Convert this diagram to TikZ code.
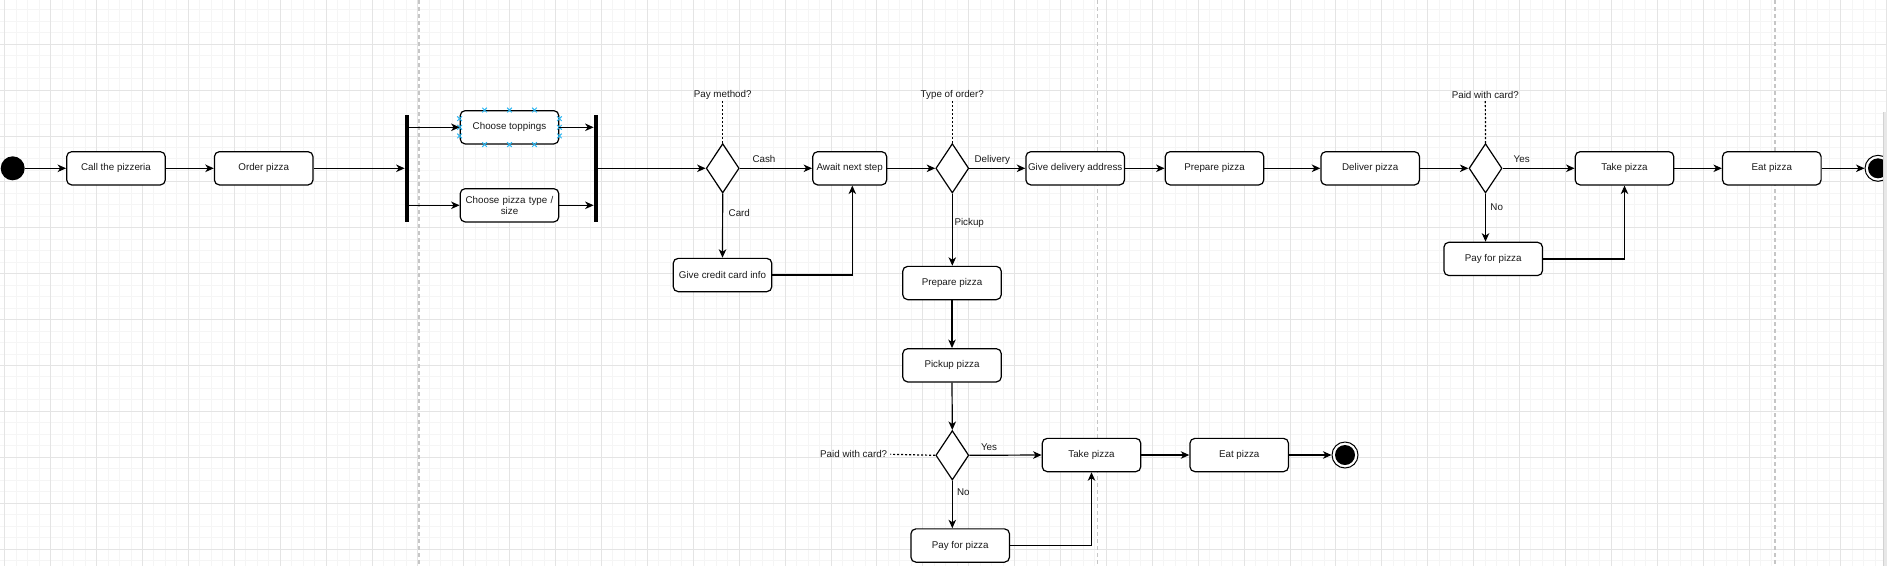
\documentclass[tikz,border=0pt]{standalone}
\usepackage{fontspec}
\setmainfont{Liberation Sans}
\usetikzlibrary{shapes.geometric,arrows.meta,calc}
\definecolor{gmaj}{HTML}{E4E4E4}
\definecolor{gmin}{HTML}{F5F5F5}
\definecolor{sepc}{HTML}{C6C6C6}
\definecolor{hand}{HTML}{29B6F2}
\definecolor{txt}{HTML}{1A1A1A}
\begin{document}
\begin{tikzpicture}[x=1pt,y=-1pt,
  every node/.style={font=\fontsize{9.8}{11.4}\selectfont, text=txt},
  act/.style={draw=black, fill=white, rectangle, rounded corners=5pt, line width=1.2pt,
    minimum width=98.6pt, minimum height=33.3pt, inner sep=1pt, align=center},
  dec/.style={draw=black, fill=white, diamond, line width=1.2pt, inner sep=0pt,
    minimum width=33pt, minimum height=49.4pt},
  bar/.style={fill=black, rectangle, inner sep=0pt, minimum width=3.7pt, minimum height=106.7pt},
  startnode/.style={fill=black, circle, inner sep=0pt, minimum size=24pt},
  endnode/.style={draw=black, fill=white, circle, line width=1pt, inner sep=0pt, minimum size=26pt,
    path picture={\fill[black] (path picture bounding box.center) circle (10pt);}},
  lbl/.style={inner sep=1pt},
  arr/.style={draw=black, line width=1.2pt, -{Stealth[length=8.5pt,width=7.5pt,inset=2.5pt]}},
  dotline/.style={draw=black, line width=1.2pt, dash pattern=on 2pt off 2pt},
  sepline/.style={draw=sepc, line width=1.1pt, dash pattern=on 4pt off 3pt}
]
\useasboundingbox (0,0) rectangle (1887,566);
\fill[white] (0,0) rectangle (1887,566);
% grid
\foreach \i in {0,...,164} \draw[gmin,line width=0.8pt] ({4.7+11.475*\i},0) -- ++(0,566);
\foreach \j in {0,...,49} \draw[gmin,line width=0.8pt] (0,{-1.8+11.475*\j}) -- ++(1887,0);
\foreach \i in {0,...,41} \draw[gmaj,line width=0.8pt] ({4.7+45.9*\i},0) -- ++(0,566);
\foreach \j in {0,...,12} \draw[gmaj,line width=0.8pt] (0,{-1.8+45.9*\j}) -- ++(1887,0);
% separators
\draw[sepline] (419,0) -- (419,566);
\draw[sepline] (1097.7,0) -- (1097.7,566);
\draw[sepline] (1775,0) -- (1775,566);

% nodes
\node[startnode] (start) at (12.7,168.3) {};
\node[act] (call) at (116,168.3) {Call the pizzeria};
\node[act] (order) at (263.7,168.3) {Order pizza};
\node[bar] (bar1) at (406.7,168.3) {};
\node[act] (top) at (509.5,127.3) {Choose toppings};
\node[act, text width=92pt] (ptype) at (509.5,205.3) {Choose pizza type /\\size};
\node[bar] (bar2) at (595.7,168.3) {};
\node[dec] (dec1) at (722.7,168.3) {};
\node[act, minimum width=74pt] (await) at (849.7,168.3) {Await next step};
\node[act] (credit) at (722.5,275) {Give credit card info};
\node[dec] (dec2) at (952.3,168.3) {};
\node[act] (gda) at (1075.2,168.3) {Give delivery address};
\node[act] (prep1) at (1214.5,168.3) {Prepare pizza};
\node[act] (deliver) at (1370.2,168.3) {Deliver pizza};
\node[dec] (dec3) at (1485.5,168.3) {};
\node[act] (take1) at (1624.5,168.3) {Take pizza};
\node[act] (eat1) at (1771.8,168.3) {Eat pizza};
\node[endnode] (end1) at (1878,168.3) {};
\node[act] (pay1) at (1493.2,258.9) {Pay for pizza};
\node[act] (prep2) at (952,283) {Prepare pizza};
\node[act] (pickup) at (952,365.3) {Pickup pizza};
\node[dec] (dec4) at (952.3,455.3) {};
\node[act] (take2) at (1091.5,455) {Take pizza};
\node[act] (eat2) at (1239.2,455) {Eat pizza};
\node[endnode] (end2) at (1345,455) {};
\node[act] (pay2) at (960.2,545.5) {Pay for pizza};

% selection handles on "Choose toppings"
\foreach \f in {0.25,0.5,0.75} {
  \foreach \p in {($(top.north west)!\f!(top.north east)$), ($(top.south west)!\f!(top.south east)$),
                  ($(top.north west)!\f!(top.south west)$), ($(top.north east)!\f!(top.south east)$)} {
    \draw[hand, line width=1pt] \p ++(-2.3,-2.3) -- ++(4.6,4.6) \p ++(-2.3,2.3) -- ++(4.6,-4.6);
  }
}

% question labels
\node[lbl] (q1) at (722.7,95) {Pay method?};
\node[lbl] (q2) at (952.3,95) {Type of order?};
\node[lbl] (q3) at (1485.3,95) {Paid with card?};
\node[lbl, inner sep=3pt] (q4) at (853.7,454.3) {Paid with card?};
\draw[dotline] (dec1.north) -- (q1.south);
\draw[dotline] (dec2.north) -- (q2.south);
\draw[dotline] (dec3.north) -- (q3.south);
\draw[dotline] (dec4.west) -- (q4.east);

% edge labels
\node[lbl] (lcash) at (764,159.3) {Cash};
\node[lbl] (lcard) at (739.3,213.3) {Card};
\node[lbl] (ldel) at (992.3,160) {Delivery};
\node[lbl, anchor=west, inner sep=0pt] (lpick) at (954.3,222.7) {Pickup};
\node[lbl] (lyes1) at (1521.7,159.3) {Yes};
\node[lbl] (lno1) at (1496.7,206.7) {No};
\node[lbl] (lyes2) at (989,447.3) {Yes};
\node[lbl] (lno2) at (963.3,492.3) {No};

% connectors
\draw[arr] (start.east) -- (call.west);
\draw[arr] (call.east) -- (order.west);
\draw[arr] (order.east) -- (bar1.west);
\draw[arr] (bar1.east |- top.west) -- (top.west);
\draw[arr] (bar1.east |- ptype.west) -- (ptype.west);
\draw[arr] (top.east) -- (bar2.west |- top.east);
\draw[arr] (ptype.east) -- (bar2.west |- ptype.east);
\draw[arr] (bar2.east) -- (dec1.west);
\draw[arr] (dec1.east) -- (await.west);
\draw[arr] (dec1.south) -- (credit.north);
\draw[arr] (credit.east) -| ([xshift=2.6pt]await.south);
\draw[arr] (await.east) -- (dec2.west);
\draw[arr] (dec2.east) -- (gda.west);
\draw[arr] (dec2.south) -- (dec2.south |- prep2.north);
\draw[arr] (gda.east) -- (prep1.west);
\draw[arr] (prep1.east) -- (deliver.west);
\draw[arr] (deliver.east) -- (dec3.west);
\draw[arr] (dec3.east) -- (take1.west);
\draw[arr] (dec3.south) -- (dec3.south |- pay1.north);
\draw[arr] (pay1.east) -| (take1.south);
\draw[arr] (take1.east) -- (eat1.west);
\draw[arr] (eat1.east) -- (end1.west);
\draw[arr] (prep2.south) -- (pickup.north);
\draw[arr] (pickup.south) -- (dec4.north);
\draw[arr] (dec4.east) -- (take2.west);
\draw[arr] (dec4.south) -- (dec4.south |- pay2.north);
\draw[arr] (pay2.east) -| (take2.south);
\draw[arr] (take2.east) -- (eat2.west);
\draw[arr] (eat2.east) -- (end2.west);

% right page edge strip
\fill[gray!18] (1883,112) rectangle (1887,566);
\draw[gray!35, line width=0.6pt] (1883,112) -- (1883,566);
\end{tikzpicture}
\end{document}
